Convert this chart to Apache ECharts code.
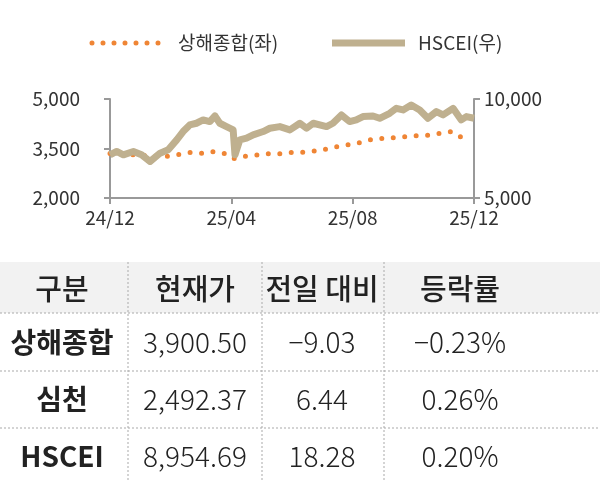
<!DOCTYPE html>
<html><head><meta charset="utf-8">
<script src="https://cdn.jsdelivr.net/npm/echarts@6/dist/echarts.min.js"></script>
<style>html,body{margin:0;background:#fff}#c{width:600px;height:480px}</style>
</head><body><div id="c"></div>
<script>
const xLabels = {0:'24/12',4:'25/04',8:'25/08',12:'25/12'};
const hsceiMonths = [0,0.22,0.44,0.77,1.04,1.32,1.65,1.92,2.20,2.41,2.63,2.85,3.07,3.29,3.46,3.62,3.84,4.06,4.12,4.28,4.50,4.72,5.05,5.27,5.60,5.93,6.26,6.48,6.70,7.14,7.35,7.63,7.90,8.12,8.34,8.67,8.89,9.22,9.44,9.66,9.93,10.21,10.48,10.76,10.98,11.31,11.58,11.75,12];
const hsceiValues = [7181,7349,7181,7349,7181,6845,7265,7433,7936,8356,8691,8775,8943,8859,9144,8775,8607,8440,7181,7936,8020,8188,8356,8523,8607,8440,8775,8523,8775,8607,8775,9195,8859,8943,9111,9144,9027,9278,9530,9446,9698,9446,9027,9362,9195,9530,8943,9111,9027];
const shMonths = [0,0.9,1.81,2.20,2.63,3.02,3.35,3.75,4.06,4.34,4.74,5.16,5.58,6.0,6.42,6.81,7.22,7.63,8.03,8.43,8.75,9.09,9.46,9.82,10.21,10.54,10.9,11.28,11.6];
const shValues = [3350,3300,3258,3309,3379,3359,3409,3359,3188,3258,3288,3339,3339,3379,3389,3429,3500,3590,3630,3731,3801,3801,3842,3862,3902,3902,3963,4013,3832];
const tableHeader = ['구분','현재가','전일 대비','등락률'];
const tableRows = [
  ['상해종합','3,900.50','−9.03','−0.23%'],
  ['심천','2,492.37','6.44','0.26%'],
  ['HSCEI','8,954.69','18.28','0.20%']
];
const seriesNames = ['상해종합(좌)','HSCEI(우)'];

const F = '"Noto Sans CJK KR","Noto Sans",sans-serif';
const ORANGE = '#ef8535', GRAY = '#bfb08f';
const colX = [62,195,322,460], colB = [128,262,384];
const rowY = [289,342,399,456];
const g = [];
g.push({type:'rect',shape:{x:0,y:262,width:600,height:51},style:{fill:'#f2f2f2'},silent:true});
[313,371,428].forEach(y=>g.push({type:'line',shape:{x1:0,y1:y,x2:600,y2:y},style:{stroke:'#aaa',lineWidth:1,lineDash:[2,2]}}));
colB.forEach(x=>g.push({type:'line',shape:{x1:x,y1:262,x2:x,y2:480},style:{stroke:'#aaa',lineWidth:1,lineDash:[2,2]}}));
tableHeader.forEach((t,i)=>g.push({type:'text',x:colX[i],y:rowY[0],style:{text:t,font:'500 29px '+F,fill:'#222',align:'center',verticalAlign:'middle'}}));
tableRows.forEach((r,ri)=>r.forEach((t,ci)=>g.push({type:'text',x:colX[ci],y:rowY[ri+1],style:{text:t,font:(ci===0?'bold ':'300 ')+'28px '+F,fill:'#222',align:'center',verticalAlign:'middle'}})));
// legend
g.push({type:'line',shape:{x1:92,y1:43,x2:160,y2:43},style:{stroke:ORANGE,lineWidth:5,lineDash:[0,11],lineCap:'round'}});
g.push({type:'text',x:178,y:43,style:{text:seriesNames[0],font:'19px '+F,fill:'#333',verticalAlign:'middle'}});
g.push({type:'line',shape:{x1:332,y1:43,x2:405,y2:43},style:{stroke:GRAY,lineWidth:7}});
g.push({type:'text',x:418,y:43,style:{text:seriesNames[1],font:'19px '+F,fill:'#333',verticalAlign:'middle'}});

const lab = {fontSize:19,color:'#333',fontFamily:F};
const axisLine = {show:true,lineStyle:{color:'#999',width:2}};
const tick = {show:true,length:6,lineStyle:{color:'#999',width:2}};
const chart = echarts.init(document.getElementById('c'));
chart.setOption({
  animation:false,
  textStyle:{fontSize:19,fontFamily:F},
  grid:{left:110,right:126,top:99,height:99,containLabel:false,outerBounds:{left:0,right:0,top:0,bottom:0}},
  xAxis:{type:'value',min:0,max:12,interval:4,axisLine:{...axisLine,onZero:false},axisTick:tick,splitLine:{show:false},
    axisLabel:{...lab,formatter:v=>xLabels[v]||'',margin:10}},
  yAxis:[
    {type:'value',min:2000,max:5000,interval:1500,axisLine:axisLine,axisTick:tick,splitLine:{show:false},
      axisLabel:{...lab,formatter:v=>v.toLocaleString('en-US'),margin:30}},
    {type:'value',min:5000,max:10000,interval:5000,position:'right',axisLine:axisLine,axisTick:tick,splitLine:{show:false},
      axisLabel:{...lab,formatter:v=>v.toLocaleString('en-US'),margin:10}}
  ],
  series:[
    {name:seriesNames[0],type:'line',yAxisIndex:0,showSymbol:false,z:1,data:shMonths.map((m,i)=>[m,shValues[i]]),
      lineStyle:{color:ORANGE,width:5,type:[0,11.5],cap:'round'}},
    {name:seriesNames[1],type:'line',yAxisIndex:1,showSymbol:false,z:2,data:hsceiMonths.map((m,i)=>[m,hsceiValues[i]]),
      lineStyle:{color:GRAY,width:7,join:'round'}}
  ],
  graphic:g
});
</script></body></html>
